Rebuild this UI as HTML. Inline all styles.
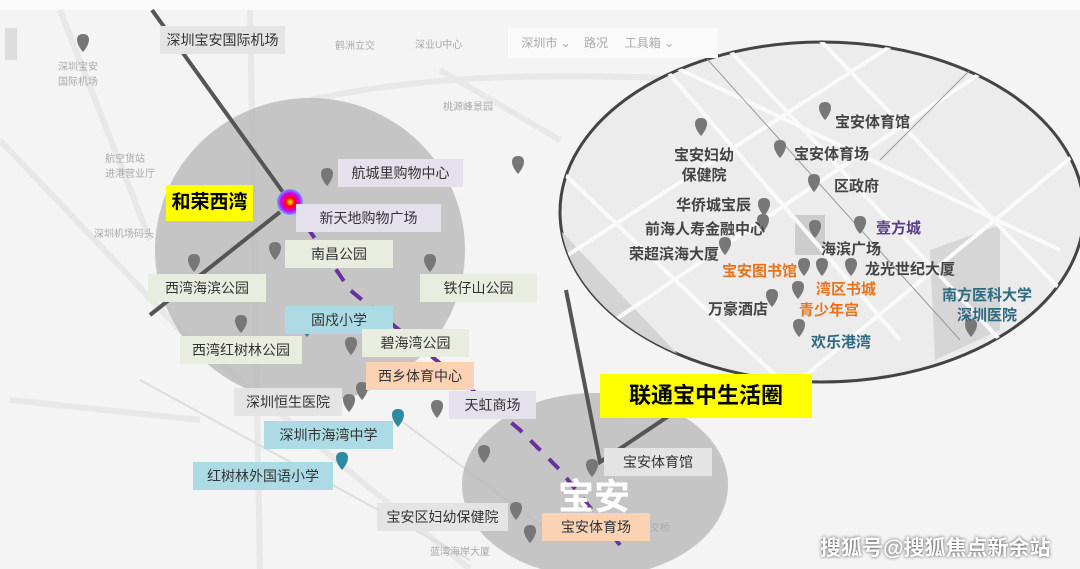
<!DOCTYPE html>
<html><head><meta charset="utf-8"><style>
body{margin:0;width:1080px;height:569px;overflow:hidden;background:#f4f4f4;font-family:"Liberation Sans","Noto Sans CJK SC",sans-serif}
svg{position:absolute;left:0;top:0}
.l{position:absolute;font-size:14px;color:#333;text-align:center;line-height:28px;height:28px}
.g{background:#e4e4e4}.p{background:#e4e0ec}.y{background:#e9eddf}.b{background:#acdbe6}.o{background:#fbd2b4}
.t{position:absolute;font-weight:bold;font-size:15px;color:#444;white-space:nowrap;line-height:20px}
.f{position:absolute;font-size:10px;color:#aaa;white-space:nowrap}
</style></head><body>
<svg width="1080" height="569">
<defs><radialGradient id="hot"><stop offset="0" stop-color="#ff0"/><stop offset=".35" stop-color="#f00"/><stop offset=".7" stop-color="#c0f"/><stop offset="1" stop-color="#6af"/></radialGradient>
<path id="pin" d="M0,0 c-8,-9 -8,-18 0,-18 c8,0 8,9 0,18z"/>
<clipPath id="ec"><ellipse cx="822" cy="212" rx="262" ry="170"/></clipPath></defs>
<rect x="0" y="0" width="1080" height="10" fill="#fafafa"/>
<rect x="5" y="28" width="12" height="32" fill="#ddd"/>
<g stroke="#e8e8e8" stroke-width="6" fill="none">
<path d="M0,140 L180,330 L360,480 L470,569"/><path d="M60,10 L150,240"/><path d="M250,10 L260,569"/><path d="M310,100 C400,80 520,70 700,80"/><path d="M440,70 L560,140"/><path d="M10,400 L200,420"/>
</g>
<g stroke="#dedede" stroke-width="2" fill="none"><path d="M140,380 L470,560"/><path d="M400,420 L560,540"/></g>
<ellipse cx="310" cy="250" rx="155" ry="152" fill="#b5b5b5" opacity=".75"/>
<ellipse cx="595" cy="485" rx="133" ry="92" fill="#b5b5b5" opacity=".75"/>
<path d="M152,10 L285,195 M280,212 L150,315" stroke="#555" stroke-width="4"/>
<path d="M292,205 L350,290 L430,355 L520,430 L560,470 L620,545" stroke="#6a2fa0" stroke-width="4" stroke-dasharray="14,12" fill="none"/>
<path d="M566,290 L600,462 L700,395" stroke="#555" stroke-width="4" fill="none"/>
<ellipse cx="822" cy="212" rx="262" ry="170" fill="#ececec" stroke="#444" stroke-width="3"/>
<g clip-path="url(#ec)" fill="none">
<path d="M560,230 L740,420 L600,420z" fill="#d4d4d4"/>
<rect x="795" y="215" width="30" height="40" fill="#cdcdcd"/>
<path d="M930,250 L1000,225 L1000,330 L935,360z" fill="#d6d6d6"/>
<g stroke="#fafafa" stroke-width="4"><path d="M640,40 L900,340"/><path d="M720,40 L1000,340"/><path d="M820,40 L1080,310"/><path d="M560,260 L900,40"/><path d="M600,330 L1000,60"/><path d="M800,380 L1080,150"/><path d="M560,170 L780,380"/><path d="M660,60 L1060,250"/></g>
<g stroke="#999" stroke-width="1"><path d="M690,40 L960,340"/><path d="M880,160 L980,60"/></g>
</g>
<circle cx="290" cy="202" r="13" fill="url(#hot)"/>
<g fill="#777">
<use href="#pin" x="83" y="52"/><use href="#pin" x="327" y="186"/><use href="#pin" x="307" y="227"/><use href="#pin" x="275" y="260"/><use href="#pin" x="194" y="272"/><use href="#pin" x="430" y="272"/><use href="#pin" x="518" y="174"/><use href="#pin" x="241" y="333"/><use href="#pin" x="351" y="355"/><use href="#pin" x="362" y="400"/><use href="#pin" x="349" y="412"/><use href="#pin" x="437" y="418"/><use href="#pin" x="484" y="463"/><use href="#pin" x="592" y="477"/><use href="#pin" x="516" y="520"/><use href="#pin" x="530" y="543"/>
<use href="#pin" x="825" y="120"/><use href="#pin" x="701" y="136"/><use href="#pin" x="780" y="158"/><use href="#pin" x="814" y="192"/><use href="#pin" x="764" y="216"/><use href="#pin" x="763" y="232"/><use href="#pin" x="725" y="255"/><use href="#pin" x="815" y="238"/><use href="#pin" x="860" y="234"/><use href="#pin" x="804" y="276"/><use href="#pin" x="822" y="276"/><use href="#pin" x="851" y="276"/><use href="#pin" x="798" y="299"/><use href="#pin" x="772" y="307"/><use href="#pin" x="799" y="337"/><use href="#pin" x="971" y="337"/>
</g>
<g fill="#2e8aa0"><use href="#pin" x="307" y="337"/><use href="#pin" x="398" y="427"/><use href="#pin" x="342" y="470"/></g>
</svg>
<div class="f" style="left:58px;top:58px">深圳宝安<br>国际机场</div>
<div class="f" style="left:105px;top:150px">航空货站<br>进港营业厅</div>
<div class="f" style="left:335px;top:37px">鹤洲立交</div>
<div class="f" style="left:415px;top:36px">深业U中心</div>
<div class="f" style="left:443px;top:98px">桃源峰景园</div>
<div class="f" style="left:94px;top:225px">深圳机场码头</div>
<div class="f" style="left:620px;top:519px">创业立交桥</div>
<div class="f" style="left:430px;top:543px">蓝湾海岸大厦</div>
<div style="position:absolute;left:508px;top:28px;width:210px;height:30px;background:#fafafa;font-size:12px;color:#aaa;line-height:30px">&nbsp;&nbsp;&nbsp;&nbsp;深圳市 ⌄ &nbsp;&nbsp;&nbsp;路况 &nbsp;&nbsp;&nbsp;&nbsp;工具箱 ⌄</div>
<div class="l g" style="left:160px;top:26px;width:125px">深圳宝安国际机场</div>
<div style="position:absolute;left:166px;top:185px;width:87px;height:36px;background:#ff0;font-weight:bold;font-size:19px;line-height:36px;text-align:center">和荣西湾</div>
<div class="l p" style="left:338px;top:159px;width:125px">航城里购物中心</div>
<div class="l p" style="left:296px;top:204px;width:145px">新天地购物广场</div>
<div class="l y" style="left:285px;top:240px;width:108px">南昌公园</div>
<div class="l y" style="left:148px;top:274px;width:118px">西湾海滨公园</div>
<div class="l y" style="left:420px;top:274px;width:117px">铁仔山公园</div>
<div class="l b" style="left:285px;top:306px;width:108px">固戍小学</div>
<div class="l y" style="left:180px;top:336px;width:122px">西湾红树林公园</div>
<div class="l y" style="left:362px;top:329px;width:107px">碧海湾公园</div>
<div class="l o" style="left:366px;top:362px;width:108px">西乡体育中心</div>
<div class="l g" style="left:234px;top:388px;width:108px">深圳恒生医院</div>
<div class="l p" style="left:449px;top:391px;width:87px">天虹商场</div>
<div class="l b" style="left:264px;top:421px;width:129px">深圳市海湾中学</div>
<div class="l b" style="left:193px;top:462px;width:140px">红树林外国语小学</div>
<div class="l g" style="left:604px;top:448px;width:108px">宝安体育馆</div>
<div class="l g" style="left:377px;top:503px;width:131px">宝安区妇幼保健院</div>
<div class="l o" style="left:542px;top:513px;width:108px">宝安体育场</div>
<div style="position:absolute;left:558px;top:468px;font-size:36px;font-weight:bold;color:#fff">宝安</div>
<div style="position:absolute;left:600px;top:374px;width:212px;height:44px;background:#ff0;font-weight:bold;font-size:22px;line-height:44px;text-align:center">联通宝中生活圈</div>
<div class="t" style="left:835px;top:113px">宝安体育馆</div>
<div class="t" style="left:674px;top:146px;text-align:center">宝安妇幼<br>保健院</div>
<div class="t" style="left:794px;top:145px">宝安体育场</div>
<div class="t" style="left:834px;top:177px">区政府</div>
<div class="t" style="left:676px;top:196px">华侨城宝辰</div>
<div class="t" style="left:645px;top:220px">前海人寿金融中心</div>
<div class="t" style="left:876px;top:219px;color:#5a3c8a">壹方城</div>
<div class="t" style="left:821px;top:240px">海滨广场</div>
<div class="t" style="left:629px;top:245px">荣超滨海大厦</div>
<div class="t" style="left:722px;top:262px;color:#e9731a">宝安图书馆</div>
<div class="t" style="left:865px;top:260px">龙光世纪大厦</div>
<div class="t" style="left:816px;top:280px;color:#e9731a">湾区书城</div>
<div class="t" style="left:942px;top:286px;color:#2e6a80;text-align:center">南方医科大学<br>深圳医院</div>
<div class="t" style="left:708px;top:300px">万豪酒店</div>
<div class="t" style="left:799px;top:301px;color:#e9731a">青少年宫</div>
<div class="t" style="left:811px;top:333px;color:#2e6a80">欢乐港湾</div>
<div style="position:absolute;left:820px;top:532px;font-size:21px;font-weight:bold;color:#fff;text-shadow:0 0 3px #444">搜狐号@搜狐焦点新余站</div>
</body></html>
